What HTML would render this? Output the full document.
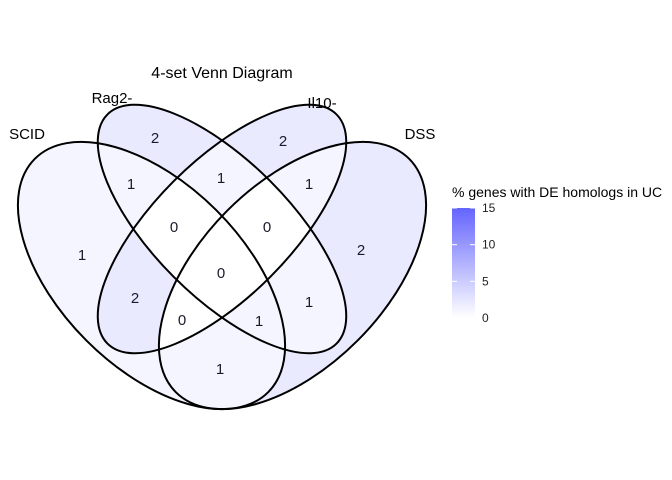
<!DOCTYPE html>
<html><head><meta charset="utf-8">
<style>
html,body{margin:0;padding:0;background:#fff;}
svg{display:block;font-family:"Liberation Sans",Arial,sans-serif;}
</style></head>
<body>
<svg id="chart" width="672" height="480" viewBox="0 0 672 480">
<defs id="defs"></defs>
<g id="regions"></g>
<g id="outlines"></g>
<g id="counts"></g>
<text x="222" y="78" text-anchor="middle" font-size="16" fill="#000">4-set Venn Diagram</text>
<g id="setlabels"></g>
<g id="legend"></g>
</svg>
<script>
const setNames = ["SCID", "Rag2-", "Il10-", "DSS"];
// region membership (SCID,Rag2,Il10,DSS) as bitstrings
const regionKeys = ["1000","0100","0010","0001","1100","0110","0011","1010","0101","1001","1110","0111","1011","1101","1111"];
const regionCounts = [1,2,2,2,1,1,1,2,1,1,0,0,0,1,0];
const regionPercent = [1,2,2,2,1,1,1,2,1,1,0,0,0,1,0];
const legendTicks = [0,5,10,15];

const NS="http://www.w3.org/2000/svg";
const shapes=[
 {cx:151.5,cy:275.5,a:165,b:92,rot:45},
 {cx:222,cy:229,a:162,b:68,rot:45},
 {cx:222,cy:229,a:162,b:68,rot:-45},
 {cx:292.5,cy:275.5,a:165,b:92,rot:-45}
];
const labelPos=[[27,139,"middle"],[112,103,"middle"],[322,108,"middle"],[420,139,"middle"]];
const countPos={"1000":[82,255],"0100":[155,138],"0010":[283,141],"0001":[361,250],"1100":[131,184],"0110":[221,178],"0011":[309,184],"1010":[135,298],"0101":[309,302],"1001":[220,369],"1110":[174,227],"0111":[267,227],"1011":[182,320],"1101":[259,321],"1111":[221,273]};
const vmax=15;
function col(v){const t=Math.max(0,Math.min(1,v/vmax));const r=Math.round(255-t*(255-100)),g=r,b=255;return `rgb(${r},${g},${b})`;}
function ell(s){const e=document.createElementNS(NS,"ellipse");e.setAttribute("cx",s.cx);e.setAttribute("cy",s.cy);e.setAttribute("rx",s.a);e.setAttribute("ry",s.b);e.setAttribute("transform",`rotate(${s.rot} ${s.cx} ${s.cy})`);return e;}
const defs=document.getElementById("defs");
shapes.forEach((s,i)=>{const cp=document.createElementNS(NS,"clipPath");cp.setAttribute("id","cp"+i);cp.appendChild(ell(s));defs.appendChild(cp);});
const rg=document.getElementById("regions");
regionKeys.forEach((k,ri)=>{
  const m=document.createElementNS(NS,"mask");m.setAttribute("id","m"+ri);
  const wr=document.createElementNS(NS,"rect");wr.setAttribute("width",672);wr.setAttribute("height",480);wr.setAttribute("fill","#fff");m.appendChild(wr);
  for(let i=0;i<4;i++) if(k[i]==="0"){const e=ell(shapes[i]);e.setAttribute("fill","#000");m.appendChild(e);}
  defs.appendChild(m);
  let outer=document.createElementNS(NS,"g");outer.setAttribute("mask",`url(#m${ri})`);
  let cur=outer;
  for(let i=0;i<4;i++) if(k[i]==="1"){const g=document.createElementNS(NS,"g");g.setAttribute("clip-path",`url(#cp${i})`);cur.appendChild(g);cur=g;}
  const r=document.createElementNS(NS,"rect");r.setAttribute("width",672);r.setAttribute("height",480);r.setAttribute("fill",col(regionPercent[ri]));
  
  
  cur.appendChild(r);rg.appendChild(outer);
});
const og=document.getElementById("outlines");
shapes.forEach((s,i)=>{const e=ell(s);e.setAttribute("fill","none");e.setAttribute("stroke","#000");e.setAttribute("stroke-width","2");
  
  
  og.appendChild(e);});
const cg=document.getElementById("counts");
regionKeys.forEach((k,ri)=>{const p=countPos[k];const t=document.createElementNS(NS,"text");t.setAttribute("x",p[0]);t.setAttribute("y",p[1]+5);t.setAttribute("text-anchor","middle");t.setAttribute("font-size","15");t.setAttribute("fill","#1a1a2e");t.textContent=regionCounts[ri];
  
  
  cg.appendChild(t);});
const sl=document.getElementById("setlabels");
setNames.forEach((n,i)=>{const t=document.createElementNS(NS,"text");t.setAttribute("x",labelPos[i][0]);t.setAttribute("y",labelPos[i][1]);t.setAttribute("text-anchor",labelPos[i][2]);t.setAttribute("font-size","15");t.textContent=n;
  
  
  sl.appendChild(t);});
// legend
const lg=document.getElementById("legend");
const ly=v=>318-(v/vmax)*110;
const grad=document.createElementNS(NS,"linearGradient");grad.setAttribute("id","lgrad");grad.setAttribute("x1","0");grad.setAttribute("y1","1");grad.setAttribute("x2","0");grad.setAttribute("y2","0");
[0,1].forEach(o=>{const st=document.createElementNS(NS,"stop");st.setAttribute("offset",o);st.setAttribute("stop-color",col(o*vmax));grad.appendChild(st);});
defs.appendChild(grad);
const lt=document.createElementNS(NS,"text");lt.setAttribute("x",452);lt.setAttribute("y",197);lt.setAttribute("font-size","14");lt.textContent="% genes with DE homologs in UC";


lg.appendChild(lt);
const bar=document.createElementNS(NS,"rect");bar.setAttribute("x",452);bar.setAttribute("y",ly(vmax));bar.setAttribute("width",23);bar.setAttribute("height",110);bar.setAttribute("fill","url(#lgrad)");


lg.appendChild(bar);
legendTicks.forEach(v=>{const y=ly(v);
  [[452,457],[470,475]].forEach(xx=>{const l=document.createElementNS(NS,"line");l.setAttribute("x1",xx[0]);l.setAttribute("x2",xx[1]);l.setAttribute("y1",y);l.setAttribute("y2",y);l.setAttribute("stroke","#fff");l.setAttribute("stroke-width","1");
    
    
    lg.appendChild(l);});
  const t=document.createElementNS(NS,"text");t.setAttribute("x",482);t.setAttribute("y",y+4);t.setAttribute("font-size","12");t.setAttribute("fill","#222");t.textContent=v;
  
  
  lg.appendChild(t);});
</script>
</body></html>
